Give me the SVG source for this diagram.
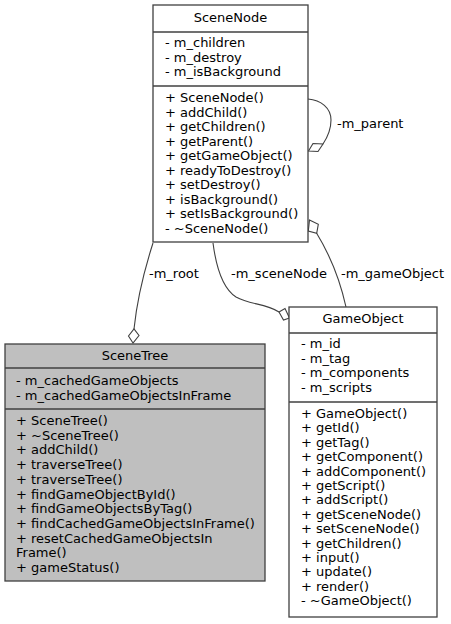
<svg xmlns="http://www.w3.org/2000/svg" width="451" height="624" viewBox="0 0 451 624">
<style>
text{font-family:"DejaVu Sans",sans-serif;font-size:13px;fill:#000}
.c{text-anchor:middle}
.box{stroke:#404040;stroke-width:1.3;fill:#fff}
.gray{fill:#bfbfbf}
.sep{stroke:#404040;stroke-width:1.3;fill:none}
.edge{stroke:#404040;stroke-width:1.1;fill:none}
.dia{stroke:#404040;stroke-width:1.1;fill:#fff}
</style>
<rect width="451" height="624" fill="#fff"/>
<g id="connectors">
<path class="edge" d="M308,99 C321,100 331,108 331,120 C331,130 327,138 323,144"/>
<polygon class="dia" points="308.5,151 313,143.5 323,144 318,151.5"/>
<text x="337" y="128">-m_parent</text>
<path class="edge" d="M153,243 C145,268 137,300 134,329"/>
<polygon class="dia" points="133,343 128.5,336 134,329 139,335.5"/>
<text x="149" y="278">-m_root</text>
<path class="edge" d="M213,243 C216,266 222,288 236,297 C250,305 265,303 279,312"/>
<polygon class="dia" points="289.5,318 283.5,320 279,312 285,308.5"/>
<text x="231" y="278">-m_sceneNode</text>
<path class="edge" d="M316.5,233 C330,255 340,280 346,307"/>
<polygon class="dia" points="309.5,220 318.3,224.3 316.7,233.3 308.3,231"/>
<text x="341" y="278">-m_gameObject</text>
</g>
<g id="SceneNode">
<rect class="box" x="153" y="5" width="155" height="237"/>
<line class="sep" x1="153" y1="32" x2="308" y2="32"/>
<line class="sep" x1="153" y1="86" x2="308" y2="86"/>
<text class="c" x="230.5" y="22">SceneNode</text>
<text x="165" y="47">- m_children</text>
<text x="165" y="61.5">- m_destroy</text>
<text x="165" y="76">- m_isBackground</text>
<text x="165" y="102">+ SceneNode()</text>
<text x="165" y="116.5">+ addChild()</text>
<text x="165" y="131">+ getChildren()</text>
<text x="165" y="145.6">+ getParent()</text>
<text x="165" y="160.2">+ getGameObject()</text>
<text x="165" y="174.8">+ readyToDestroy()</text>
<text x="165" y="189.3">+ setDestroy()</text>
<text x="165" y="203.9">+ isBackground()</text>
<text x="165" y="218.4">+ setIsBackground()</text>
<text x="165" y="233">- ~SceneNode()</text>
</g>
<g id="SceneTree">
<rect class="box gray" x="5" y="344" width="260" height="237"/>
<line class="sep" x1="5" y1="368" x2="265" y2="368"/>
<line class="sep" x1="5" y1="409" x2="265" y2="409"/>
<text class="c" x="135" y="360">SceneTree</text>
<text x="16" y="385">- m_cachedGameObjects</text>
<text x="16" y="399.5">- m_cachedGameObjectsInFrame</text>
<text x="16" y="425">+ SceneTree()</text>
<text x="16" y="439.7">+ ~SceneTree()</text>
<text x="16" y="454.4">+ addChild()</text>
<text x="16" y="469.1">+ traverseTree()</text>
<text x="16" y="483.8">+ traverseTree()</text>
<text x="16" y="498.5">+ findGameObjectById()</text>
<text x="16" y="513.2">+ findGameObjectsByTag()</text>
<text x="16" y="527.9">+ findCachedGameObjectsInFrame()</text>
<text x="16" y="542.6">+ resetCachedGameObjectsIn</text>
<text x="16" y="557.3">Frame()</text>
<text x="16" y="572">+ gameStatus()</text>
</g>
<g id="GameObject">
<rect class="box" x="289" y="307" width="148" height="310"/>
<line class="sep" x1="289" y1="333" x2="437" y2="333"/>
<line class="sep" x1="289" y1="402" x2="437" y2="402"/>
<text class="c" x="363" y="323">GameObject</text>
<text x="301" y="348">- m_id</text>
<text x="301" y="362.5">- m_tag</text>
<text x="301" y="377">- m_components</text>
<text x="301" y="391.5">- m_scripts</text>
<text x="301" y="418">+ GameObject()</text>
<text x="301" y="432.4">+ getId()</text>
<text x="301" y="446.8">+ getTag()</text>
<text x="301" y="461.2">+ getComponent()</text>
<text x="301" y="475.6">+ addComponent()</text>
<text x="301" y="490">+ getScript()</text>
<text x="301" y="504.4">+ addScript()</text>
<text x="301" y="518.8">+ getSceneNode()</text>
<text x="301" y="533.2">+ setSceneNode()</text>
<text x="301" y="547.6">+ getChildren()</text>
<text x="301" y="562">+ input()</text>
<text x="301" y="576.4">+ update()</text>
<text x="301" y="590.8">+ render()</text>
<text x="301" y="605.2">- ~GameObject()</text>
</g>
</svg>
